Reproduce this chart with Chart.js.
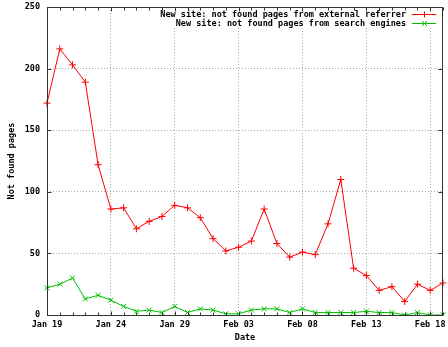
<!DOCTYPE html>
<html>
<head>
<meta charset="utf-8">
<script src="https://cdn.jsdelivr.net/npm/chart.js@4.4.1/dist/chart.umd.min.js"></script>
<style>
  html, body { margin: 0; padding: 0; background: #fff; }
  #chart { display: block; }
</style>
</head>
<body>
<canvas id="chart" width="448" height="347"></canvas>
<script>
// one point per day, Jan 19 .. Feb 19
const days = [
  'Jan 19', 'Jan 20', 'Jan 21', 'Jan 22', 'Jan 23', 'Jan 24', 'Jan 25', 'Jan 26',
  'Jan 27', 'Jan 28', 'Jan 29', 'Jan 30', 'Jan 31', 'Feb 01', 'Feb 02', 'Feb 03',
  'Feb 04', 'Feb 05', 'Feb 06', 'Feb 07', 'Feb 08', 'Feb 09', 'Feb 10', 'Feb 11',
  'Feb 12', 'Feb 13', 'Feb 14', 'Feb 15', 'Feb 16', 'Feb 17', 'Feb 18', 'Feb 19'
];
const xTickLabels = ['Jan 19', 'Jan 24', 'Jan 29', 'Feb 03', 'Feb 08', 'Feb 13', 'Feb 18'];
const yTicks = [0, 50, 100, 150, 200, 250];

const externalReferrer = [
  172, 216, 203, 189, 122, 86, 87, 70, 76, 80, 89, 87, 79, 62, 52, 55,
  60, 86, 58, 47, 51, 49, 74, 110, 38, 32, 20, 23, 11, 25, 20, 26
];
const searchEngines = [
  22, 25, 30, 13, 16, 12, 7, 3, 4, 2, 7, 2, 5, 4, 1, 1,
  4, 5, 5, 2, 5, 2, 2, 2, 2, 3, 2, 2, 0, 2, 0, 0
];

const seriesNames = [
  'New site: not found pages from external referrer',
  'New site: not found pages from search engines'
];
const seriesColors = ['#ff0000', '#00c000'];
const GRID = '#a8a8a8';
const FONT = { family: '"DejaVu Sans Mono", "Liberation Mono", monospace', size: 8.5, weight: 'bold' };

// gnuplot-ish key: text right aligned, sample line after it, on a cleared area
const gnuplotKey = {
  id: 'gnuplotKey',
  beforeDatasetsDraw(chart) {
    const { ctx, chartArea: a } = chart;
    ctx.save();
    ctx.fillStyle = '#ffffff';
    ctx.fillRect(158, a.top + 1, a.right - a.left, 20);

    ctx.font = `${FONT.weight} ${FONT.size}px ${FONT.family}`;
    ctx.textAlign = 'right';
    ctx.textBaseline = 'middle';
    ctx.lineWidth = 1;
    seriesNames.forEach((name, i) => {
      const y = a.top + 7.5 + i * 9;
      ctx.fillStyle = '#000000';
      ctx.fillText(name, 406, y);
      ctx.strokeStyle = seriesColors[i];
      ctx.beginPath();
      ctx.moveTo(412, y); ctx.lineTo(436, y);
      if (i === 0) {
        ctx.moveTo(424.5, y - 3); ctx.lineTo(424.5, y + 3);
      } else {
        ctx.moveTo(422, y - 2.5); ctx.lineTo(427, y + 2.5);
        ctx.moveTo(422, y + 2.5); ctx.lineTo(427, y - 2.5);
      }
      ctx.stroke();
    });
    ctx.restore();
  }
};

// box round the plot and inward ticks on all four sides
const gnuplotFrame = {
  id: 'gnuplotFrame',
  afterDraw(chart) {
    const { ctx, chartArea: a, scales } = chart;
    const l = Math.round(a.left) + 0.5, r = Math.round(a.right) - 0.5;
    const t = Math.round(a.top) + 0.5, b = Math.round(a.bottom) + 0.5;
    ctx.save();
    ctx.strokeStyle = '#333333';
    ctx.lineWidth = 1;
    ctx.strokeRect(l, t, r - l, b - t);

    ctx.beginPath();
    days.forEach((d, i) => {
      const px = Math.round(scales.x.getPixelForValue(i)) + 0.5;
      const len = xTickLabels.includes(d) ? 4 : 3;
      ctx.moveTo(px, b); ctx.lineTo(px, b - len);
      ctx.moveTo(px, t); ctx.lineTo(px, t + len);
    });
    yTicks.forEach(v => {
      const py = Math.round(scales.y.getPixelForValue(v)) + 0.5;
      ctx.moveTo(l, py); ctx.lineTo(l + 4, py);
      ctx.moveTo(r, py); ctx.lineTo(r - 4, py);
    });
    ctx.stroke();
    ctx.restore();
  }
};

new Chart(document.getElementById('chart'), {
  type: 'line',
  data: {
    labels: days,
    datasets: [
      {
        label: seriesNames[0],
        data: externalReferrer,
        borderColor: seriesColors[0],
        borderWidth: 1,
        pointStyle: 'cross',
        pointRadius: 3.5,
        pointBorderColor: seriesColors[0],
        pointBorderWidth: 1,
        tension: 0
      },
      {
        label: seriesNames[1],
        data: searchEngines,
        borderColor: seriesColors[1],
        borderWidth: 1,
        pointStyle: 'crossRot',
        pointRadius: 3.5,
        pointBorderColor: seriesColors[1],
        pointBorderWidth: 1,
        tension: 0
      }
    ]
  },
  options: {
    responsive: false,
    animation: false,
    layout: { padding: { top: 7, right: 2, left: 0, bottom: 0 } },
    plugins: {
      legend: { display: false },
      tooltip: { enabled: false }
    },
    scales: {
      x: {
        type: 'category',
        offset: false,
        afterFit: s => { s.height = 32; s.paddingLeft = 0; s.paddingRight = 0; },
        border: { display: false, dash: [1, 2] },
        grid: {
          drawTicks: false,
          color: ctx => (ctx.index > 0 && xTickLabels.includes(days[ctx.index])) ? GRID : 'rgba(0,0,0,0)'
        },
        ticks: {
          autoSkip: false,
          maxRotation: 0,
          padding: 5,
          color: '#000',
          font: FONT,
          callback: (v, i) => xTickLabels.includes(days[i]) ? days[i] : ''
        },
        title: { display: true, text: 'Date', color: '#000', font: FONT, padding: { top: 0, bottom: 4 } }
      },
      y: {
        min: 0,
        max: 250,
        afterFit: s => { s.width = 47; s.paddingTop = 0; s.paddingBottom = 0; },
        afterBuildTicks: s => { s.ticks = yTicks.map(v => ({ value: v })); },
        border: { display: false, dash: [1, 2] },
        grid: {
          drawTicks: false,
          color: ctx => (ctx.tick && ctx.tick.value > 0 && ctx.tick.value < 250) ? GRID : 'rgba(0,0,0,0)'
        },
        ticks: { padding: 7, color: '#000', font: FONT },
        title: { display: true, text: 'Not found pages', color: '#000', font: FONT, padding: { top: 7, bottom: 0 } }
      }
    }
  },
  plugins: [gnuplotKey, gnuplotFrame]
});
</script>
</body>
</html>
